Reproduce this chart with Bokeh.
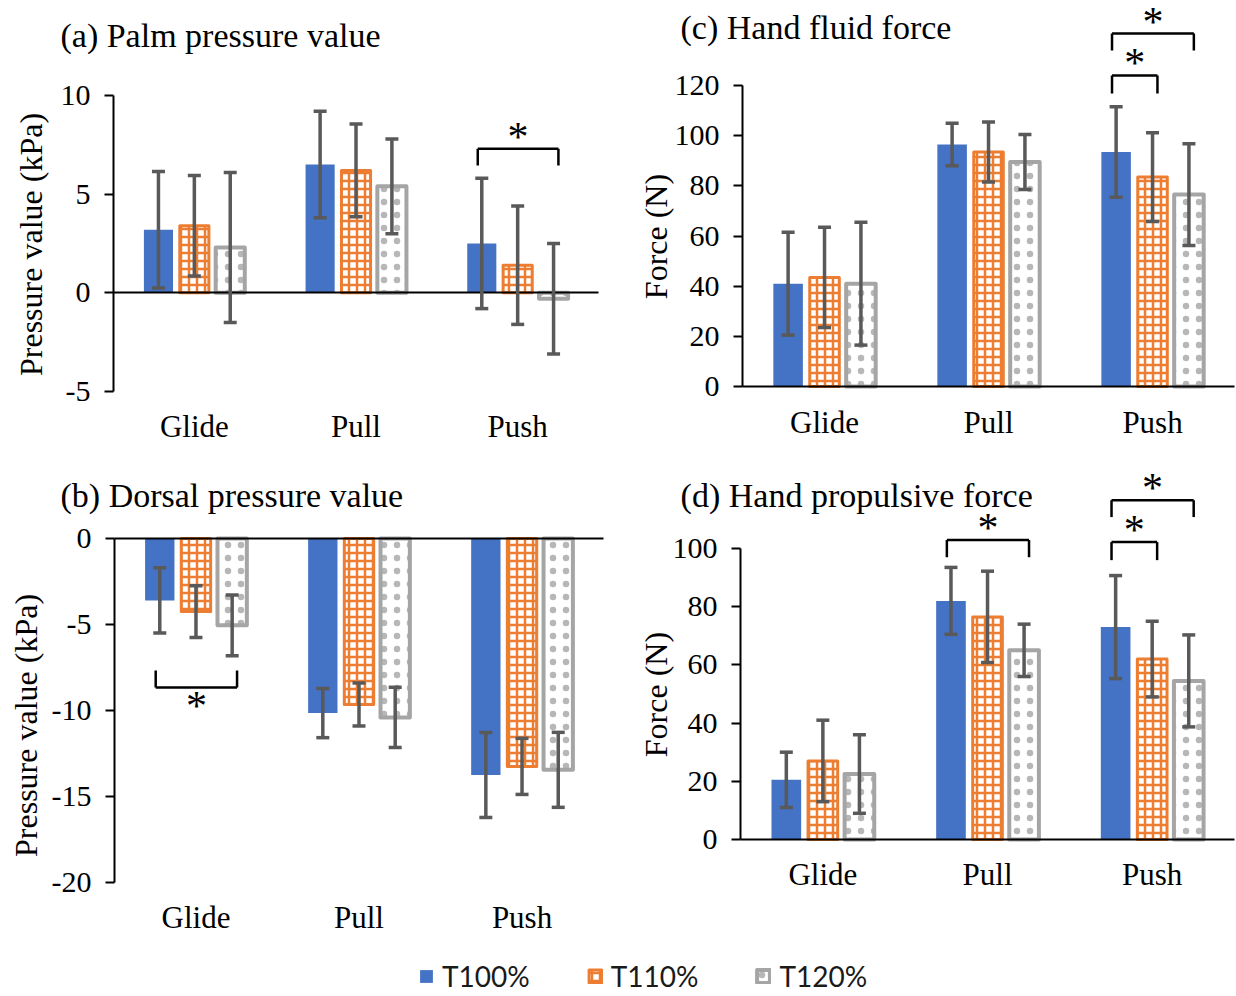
from math import pi
from bokeh.plotting import figure
from bokeh.models import (ColumnDataSource, Whisker, TeeHead, Label, FixedTicker,
                          PrintfTickFormatter, Legend, LegendItem, Range1d)
from bokeh.transform import dodge
from bokeh.layouts import column, row
from bokeh.embed import file_html
from bokeh.resources import INLINE
from bokeh.core.properties import value

categories = ["Glide", "Pull", "Push"]
series_names = ["T100%", "T110%", "T120%"]

# (a) Palm pressure value (kPa): means and SD
palm_t100 = [3.2, 6.5, 2.5]
palm_t110 = [3.4, 6.2, 1.4]
palm_t120 = [2.3, 5.4, -0.3]
palm_t100_sd = [2.95, 2.7, 3.3]
palm_t110_sd = [2.55, 2.35, 3.0]
palm_t120_sd = [3.8, 2.4, 2.8]
palm_ticks = [-5, 0, 5, 10]

# (b) Dorsal pressure value (kPa)
dorsal_t100 = [-3.6, -10.15, -13.75]
dorsal_t110 = [-4.25, -9.65, -13.25]
dorsal_t120 = [-5.05, -10.4, -13.45]
dorsal_t100_sd = [1.9, 1.43, 2.47]
dorsal_t110_sd = [1.5, 1.25, 1.63]
dorsal_t120_sd = [1.77, 1.75, 2.18]
dorsal_ticks = [-20, -15, -10, -5, 0]

# (c) Hand fluid force (N)
fluid_t100 = [41.0, 96.5, 93.5]
fluid_t110 = [43.5, 93.5, 83.5]
fluid_t120 = [41.0, 89.5, 76.5]
fluid_t100_sd = [20.5, 8.5, 18.0]
fluid_t110_sd = [20.0, 12.0, 17.7]
fluid_t120_sd = [24.5, 11.0, 20.3]
fluid_ticks = [0, 20, 40, 60, 80, 100, 120]

# (d) Hand propulsive force (N)
prop_t100 = [20.5, 82.0, 73.0]
prop_t110 = [27.0, 76.5, 62.0]
prop_t120 = [22.5, 65.0, 54.5]
prop_t100_sd = [9.5, 11.5, 17.7]
prop_t110_sd = [14.0, 15.7, 13.0]
prop_t120_sd = [13.5, 9.0, 15.8]
prop_ticks = [0, 20, 40, 60, 80, 100]

# significance brackets: category index, from-series index, to-series index, bracket level, leg end
palm_sig_cat = [2]
palm_sig_from = [0]
palm_sig_to = [2]
palm_sig_level = [7.3]
palm_sig_leg = [6.45]

dorsal_sig_cat = [0]
dorsal_sig_from = [0]
dorsal_sig_to = [2]
dorsal_sig_level = [-8.66]
dorsal_sig_leg = [-7.67]

fluid_sig_cat = [2, 2]
fluid_sig_from = [0, 0]
fluid_sig_to = [1, 2]
fluid_sig_level = [124.0, 140.7]
fluid_sig_leg = [116.8, 134.0]

prop_sig_cat = [1, 2, 2]
prop_sig_from = [0, 0, 0]
prop_sig_to = [2, 1, 2]
prop_sig_level = [102.9, 102.2, 116.6]
prop_sig_leg = [97.0, 96.0, 110.8]

COLORS = ["#4472C4", "#ED7D31", "#A5A5A5"]
ERR = "#595959"
OFFS = [-0.222, 0.0, 0.222]
SERIF = "Liberation Serif"
CAT_POS = [i + 0.5 for i in range(len(categories))]


def bar_style(i):
    if i == 0:
        return dict(fill_color=COLORS[0], line_color=None)
    if i == 1:
        return dict(fill_color="white", line_color=COLORS[1], line_width=3, line_join="round",
                    hatch_pattern="cross", hatch_color=COLORS[1], hatch_scale=8, hatch_weight=2.5)
    return dict(fill_color="white", line_color=COLORS[2], line_width=4, line_join="round",
                hatch_pattern="dot", hatch_color=COLORS[2], hatch_scale=13, hatch_weight=1,
                hatch_alpha=0.8)


def panel(means, sds, xr, yr, ticks, ybounds, ylabel, ylabel_xy, title, title_xy,
          size, xlab_standoff, sig, star_dy):
    w, h = size
    p = figure(x_range=Range1d(*xr), y_range=Range1d(*yr), width=w, height=h,
               output_backend="svg", toolbar_location=None, min_border=0)
    p.outline_line_color = None
    p.xgrid.grid_line_color = None
    p.ygrid.grid_line_color = None

    for i in range(3):
        src = ColumnDataSource(dict(pos=CAT_POS, top=means[i],
                                    upper=[m + s for m, s in zip(means[i], sds[i])],
                                    lower=[m - s for m, s in zip(means[i], sds[i])]))
        p.vbar(x=dodge("pos", OFFS[i]), top="top", bottom=0, width=0.18,
               source=src, **bar_style(i))
        p.add_layout(Whisker(base=dodge("pos", OFFS[i]), upper="upper",
                             lower="lower", source=src, level="overlay",
                             line_color=ERR, line_width=3.5,
                             upper_head=TeeHead(size=13, line_color=ERR, line_width=3.5),
                             lower_head=TeeHead(size=13, line_color=ERR, line_width=3.5)))

    # significance brackets
    cat, fr, to, lvl, leg = sig
    xl = [CAT_POS[c] + OFFS[f] - 0.025 for c, f in zip(cat, fr)]
    xrt = [CAT_POS[c] + OFFS[t] + 0.03 for c, t in zip(cat, to)]
    seg = ColumnDataSource(dict(x0=xl + xl + xrt, x1=xrt + xl + xrt,
                                y0=lvl + lvl + lvl, y1=lvl + leg + leg))
    p.segment("x0", "y0", "x1", "y1", source=seg, line_color="black", line_width=2.5)
    xm = [(a + b) / 2 for a, b in zip(xl, xrt)]
    stars = ColumnDataSource(dict(x=xm, y=lvl, t=["*"] * len(lvl)))
    p.text("x", "y", text="t", source=stars, text_font=value(SERIF), text_font_size="42px",
           text_align="center", text_baseline="alphabetic", y_offset=star_dy, text_color="black")

    # y axis, drawn at the left edge of the category area
    yax = p.yaxis[0]
    yax.fixed_location = 0
    yax.ticker = FixedTicker(ticks=ticks)
    yax.formatter = PrintfTickFormatter(format="%d")
    yax.bounds = ybounds
    yax.axis_line_color = "black"
    yax.axis_line_width = 2
    yax.major_tick_line_color = "black"
    yax.major_tick_line_width = 2
    yax.major_tick_out = 9
    yax.major_tick_in = 0
    yax.minor_tick_line_color = None
    yax.major_label_text_font = SERIF
    yax.major_label_text_font_size = "30px"
    yax.major_label_text_color = "black"
    yax.major_label_standoff = 14

    # category axis, drawn along zero
    xax = p.xaxis[0]
    xax.fixed_location = 0
    xax.bounds = (0, len(categories))
    xax.ticker = FixedTicker(ticks=CAT_POS)
    xax.major_label_overrides = {pos: c for pos, c in zip(CAT_POS, categories)}
    xax.axis_line_color = "black"
    xax.axis_line_width = 2
    xax.major_tick_line_color = None
    xax.minor_tick_line_color = None
    xax.major_tick_out = 0
    xax.major_tick_in = 0
    xax.major_label_text_font = SERIF
    xax.major_label_text_font_size = "31px"
    xax.major_label_text_color = "black"
    xax.major_label_standoff = xlab_standoff

    p.add_layout(Label(x=ylabel_xy[0], y=ylabel_xy[1], text=ylabel, angle=pi / 2,
                       text_font=SERIF, text_font_size="32px", text_align="center",
                       text_baseline="middle", text_color="black"))
    p.add_layout(Label(x=title_xy[0], y=title_xy[1], text=title, text_font=SERIF,
                       text_font_size="34px", text_baseline="middle", text_align="left",
                       text_color="black"))
    return p


fa = panel([palm_t100, palm_t110, palm_t120], [palm_t100_sd, palm_t110_sd, palm_t120_sd],
           (-0.699, 3.136), (-8.497, 14.814), palm_ticks, (-5, 10),
           "Pressure value (kPa)", (-0.513, 2.45), "(a) Palm pressure value", (-0.328, 13.04),
           (620, 460), 116,
           (palm_sig_cat, palm_sig_from, palm_sig_to, palm_sig_level, palm_sig_leg), -12)

fb = panel([dorsal_t100, dorsal_t110, dorsal_t120],
           [dorsal_t100_sd, dorsal_t110_sd, dorsal_t120_sd],
           (-0.699, 3.104), (-23.663, 4.535), dorsal_ticks, (-20, 0),
           "Pressure value (kPa)", (-0.540, -10.87), "(b) Dorsal pressure value", (-0.331, 2.5),
           (620, 485), 361,
           (dorsal_sig_cat, dorsal_sig_from, dorsal_sig_to, dorsal_sig_level, dorsal_sig_leg), 19)

fc = panel([fluid_t100, fluid_t110, fluid_t120], [fluid_t100_sd, fluid_t110_sd, fluid_t120_sd],
           (-0.744, 3.012), (-29.50, 153.89), fluid_ticks, (0, 120),
           "Force (N)", (-0.527, 59.8), "(c) Hand fluid force", (-0.378, 143.1),
           (616, 460), 18,
           (fluid_sig_cat, fluid_sig_from, fluid_sig_to, fluid_sig_level, fluid_sig_leg), -12)

fd = panel([prop_t100, prop_t110, prop_t120], [prop_t100_sd, prop_t110_sd, prop_t120_sd],
           (-0.729, 3.012), (-36.43, 130.24), prop_ticks, (0, 100),
           "Force (N)", (-0.513, 49.8), "(d) Hand propulsive force", (-0.364, 118.2),
           (616, 485), 18,
           (prop_sig_cat, prop_sig_from, prop_sig_to, prop_sig_level, prop_sig_leg), -12)

lg = figure(width=1236, height=50, x_range=(0, 1), y_range=(0, 1), output_backend="svg",
            toolbar_location=None, min_border=0, x_axis_type=None, y_axis_type=None)
lg.outline_line_color = None
lg.grid.visible = False
rs = [lg.vbar(x=[0.5], top=[0.6], bottom=[0.4], width=0.01, visible=False, **bar_style(i))
      for i in range(3)]
legend = Legend(items=[LegendItem(label=s, renderers=[r]) for s, r in zip(series_names, rs)],
                orientation="horizontal", location=(418, 2), glyph_width=16, glyph_height=16,
                label_standoff=8, spacing=57, padding=0, margin=0, border_line_color=None,
                background_fill_alpha=0, inactive_fill_alpha=0,
                label_text_font="Lato", label_text_font_size="28px",
                label_text_color="#1a1a1a")
lg.add_layout(legend, "center")

layout = column(row(fa, fc), row(fb, fd), lg)
open("out.html", "w").write(file_html(layout, INLINE))
